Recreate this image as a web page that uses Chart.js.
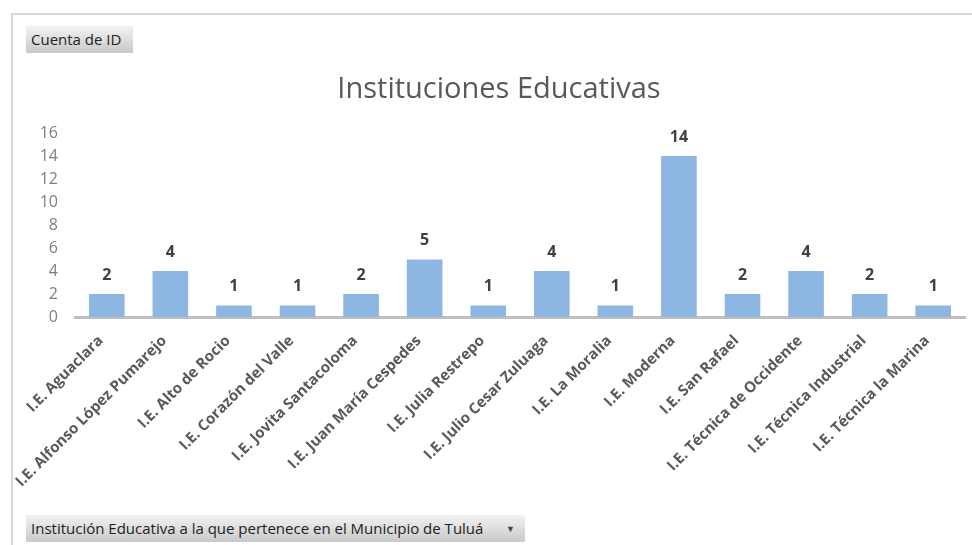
<!DOCTYPE html>
<html>
<head>
    <title>Instituciones Educativas</title>
    <script src="https://cdn.jsdelivr.net/npm/chart.js"></script>
    <style>
        body {
            margin: 0;
            background: #fff;
            font-family: "Open Sans", Lato, sans-serif;
        }
        #wrap {
            position: relative;
            width: 972px;
            height: 545px;
            overflow: hidden;
        }
        #frame {
            position: absolute;
            left: 11px;
            top: 13px;
            width: 980px;
            height: 560px;
            border-top: 2px solid #d9d9d9;
            border-left: 2px solid #d9d9d9;
        }
        canvas {
            position: absolute;
            left: 0;
            top: 0;
        }
        #titulo {
            position: absolute;
            left: 0;
            top: 69px;
            width: 998px;
            text-align: center;
            font-size: 29px;
            line-height: 35px;
            color: #595959;
        }
        .field {
            position: absolute;
            height: 27px;
            line-height: 27px;
            padding-left: 5px;
            font-size: 15px;
            color: #222;
            background: linear-gradient(#f2f2f2, #c9c9c9);
            box-sizing: border-box;
            white-space: nowrap;
        }
        #cuenta {
            left: 26px;
            top: 26px;
            width: 107px;
        }
        #campo {
            left: 26px;
            top: 515px;
            width: 499px;
        }
        #campo span {
            position: absolute;
            right: 10px;
            top: 0;
            font-size: 9px;
            color: #444;
        }
    </style>
</head>
<body>
<div id="wrap">
    <div id="frame"></div>
    <canvas id="myChart" width="972" height="545"></canvas>
    <div id="titulo">Instituciones Educativas</div>
    <div class="field" id="cuenta">Cuenta de ID</div>
    <div class="field" id="campo">Institución Educativa a la que pertenece en el Municipio de Tuluá<span>&#9660;</span></div>
</div>

<script>
    const instituciones = [
        'I.E. Aguaclara', 'I.E. Alfonso López Pumarejo', 'I.E. Alto de Rocio',
        'I.E. Corazón del Valle', 'I.E. Jovita Santacoloma', 'I.E. Juan María Cespedes',
        'I.E. Julia Restrepo', 'I.E. Julio Cesar Zuluaga', 'I.E. La Moralia',
        'I.E. Moderna', 'I.E. San Rafael', 'I.E. Técnica de Occidente',
        'I.E. Técnica Industrial', 'I.E. Técnica la Marina'
    ];
    const cuentaDeID = [2, 4, 1, 1, 2, 5, 1, 4, 1, 14, 2, 4, 2, 1];
    const yTicks = [0, 2, 4, 6, 8, 10, 12, 14, 16];

    // etiquetas de datos encima de cada barra
    const dataLabels = {
        id: 'dataLabels',
        afterDatasetsDraw(chart) {
            const ctx = chart.ctx;
            const meta = chart.getDatasetMeta(0);
            ctx.save();
            ctx.font = 'bold 16px "Open Sans", sans-serif';
            ctx.fillStyle = '#404040';
            ctx.textAlign = 'center';
            ctx.textBaseline = 'middle';
            meta.data.forEach((bar, i) => {
                ctx.fillText(cuentaDeID[i], bar.x, bar.y - 19);
            });
            ctx.restore();
        }
    };

    new Chart(document.getElementById('myChart'), {
        type: 'bar',
        data: {
            labels: instituciones,
            datasets: [{
                label: 'Cuenta de ID',
                data: cuentaDeID,
                backgroundColor: '#8DB6E2',
                barPercentage: 0.56,
                categoryPercentage: 1
            }]
        },
        options: {
            responsive: false,
            animation: false,
            layout: { padding: { left: 0, right: 7, top: 133, bottom: 0 } },
            plugins: {
                legend: { display: false },
                tooltip: { enabled: false }
            },
            scales: {
                x: {
                    grid: { color: 'transparent', drawTicks: false },
                    border: { display: true, color: '#BFBFBF', width: 3 },
                    ticks: {
                        autoSkip: false,
                        minRotation: 45,
                        maxRotation: 45,
                        padding: 15,
                        labelOffset: -6,
                        color: '#595959',
                        font: { family: 'Open Sans', size: 15, weight: 'bold' }
                    },
                    afterFit: function (scale) { scale.height = 228; }
                },
                y: {
                    min: 0,
                    max: 16,
                    grid: { display: false, drawTicks: false },
                    border: { display: false },
                    afterBuildTicks: function (scale) {
                        scale.ticks = yTicks.map(v => ({ value: v }));
                    },
                    ticks: {
                        padding: 17,
                        color: '#7F7F7F',
                        font: { family: 'Open Sans', size: 16 }
                    },
                    afterFit: function (scale) { scale.width = 75; }
                }
            }
        },
        plugins: [dataLabels]
    });
</script>
</body>
</html>
